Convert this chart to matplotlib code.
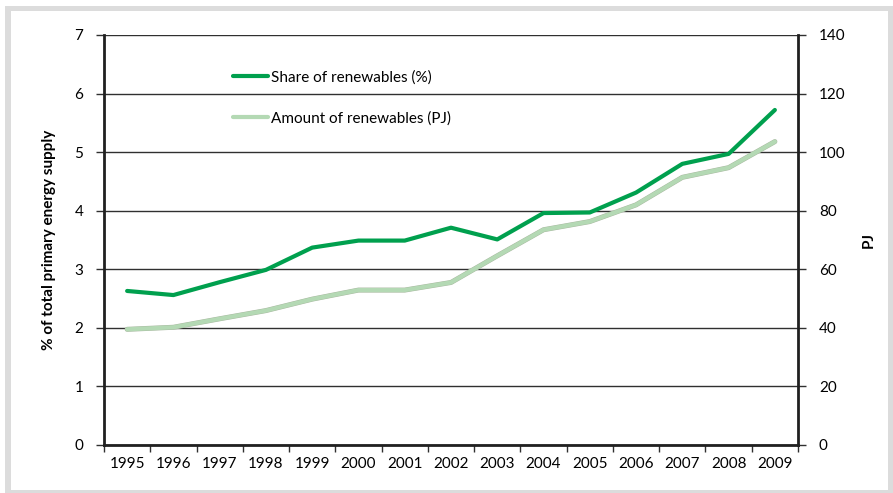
import numpy as np
import matplotlib
matplotlib.use("Agg")
from matplotlib import pyplot as plt
from matplotlib.patches import Rectangle

years = ["1995", "1996", "1997", "1998", "1999", "2000", "2001", "2002",
         "2003", "2004", "2005", "2006", "2007", "2008", "2009"]
share_pct = [2.63, 2.56, 2.78, 2.99, 3.37, 3.49, 3.49, 3.71,
             3.51, 3.96, 3.97, 4.31, 4.80, 4.97, 5.72]
amount_pj = [39.5, 40.2, 43.1, 45.9, 49.8, 52.9, 52.9, 55.5,
             64.6, 73.5, 76.3, 82.0, 91.4, 94.7, 103.6]

dark_green = "#00a04e"
light_green = "#b4d9b4"

plt.rcParams['font.family'] = ['Lato', 'DejaVu Sans']
plt.rcParams['font.size'] = 11

W, H = 893, 493
fig = plt.figure(figsize=(W / 100, H / 100), dpi=100)

# gray frame round the chart
fig.patches.append(Rectangle((5 / W, 0), 888 / W, 487 / H, transform=fig.transFigure,
                             facecolor="#dcdcdc", edgecolor="none", zorder=-2))
fig.patches.append(Rectangle((11 / W, 3 / H), 877 / W, 479 / H, transform=fig.transFigure,
                             facecolor="white", edgecolor="none", zorder=-1))

ax = fig.add_axes([104 / W, 48 / H, 694 / W, 410 / H])
ax.patch.set_alpha(0)
x = np.arange(len(years))

ax.set_xlim(-0.5, len(years) - 0.5)
ax.set_ylim(0, 7)
ax.set_yticks(range(0, 8))
ax.set_xticks(x)
ax.set_xticklabels(years)
ax.set_xticks(np.arange(-0.5, len(years)), minor=True)
ax.tick_params(axis='x', which='major', length=0, pad=9)
ax.tick_params(axis='x', which='minor', length=5, width=1, color="#303030", direction='out')
ax.tick_params(axis='y', length=6, width=1, color="#303030", pad=9)
ax.grid(axis='y', color="#303030", linewidth=1)
ax.set_axisbelow(True)
for s in ["left", "bottom"]:
    ax.spines[s].set_linewidth(2)
    ax.spines[s].set_color("#202020")
ax.spines["top"].set_visible(False)
ax.spines["right"].set_visible(False)
ax.set_ylabel("% of total primary energy supply", fontweight='bold', labelpad=13)

ax2 = ax.twinx()
ax2.set_ylim(0, 140)
ax2.set_yticks(range(0, 141, 20))
ax2.tick_params(axis='y', length=6, width=1, color="#303030", pad=9)
ax2.spines["right"].set_linewidth(2)
ax2.spines["right"].set_color("#202020")
for s in ["left", "top", "bottom"]:
    ax2.spines[s].set_visible(False)
ax2.set_ylabel("PJ", fontweight='bold', labelpad=12)

l1, = ax.plot(x, share_pct, color=dark_green, linewidth=3, solid_capstyle='round',
              label="Share of renewables (%)", zorder=3)
ax2.plot(x, amount_pj, color="#a8b8a0", linewidth=3.6, solid_capstyle='round', zorder=2)
l2, = ax2.plot(x, amount_pj, color=light_green, linewidth=3, solid_capstyle='round',
               label="Amount of renewables (PJ)", zorder=3)

ax2.legend([l1, l2], [l1.get_label(), l2.get_label()], loc='upper left',
           bbox_to_anchor=(233 / W, (H - 70) / H), bbox_transform=fig.transFigure,
           frameon=False, borderpad=0, borderaxespad=0, handlelength=2.3,
           handletextpad=0.2, labelspacing=1.75, fontsize=11)

fig.savefig("out.png", dpi=100)
